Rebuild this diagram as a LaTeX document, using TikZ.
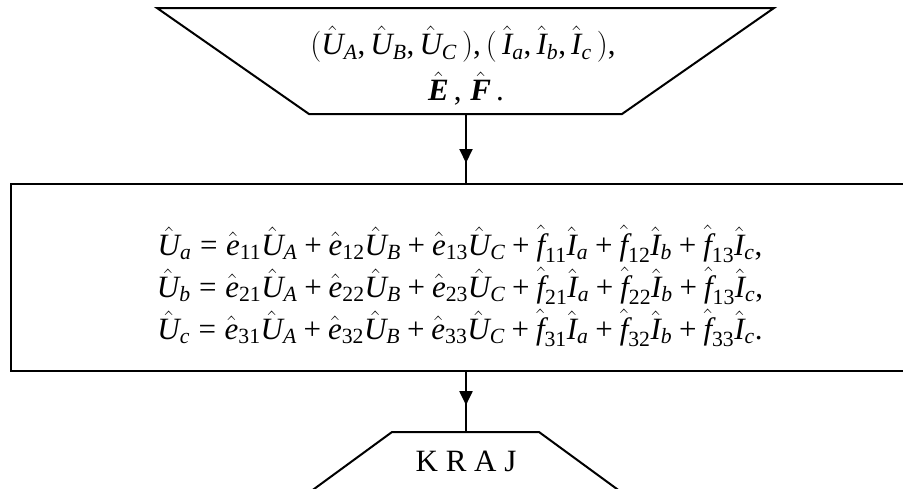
\RequirePackage{fix-cm}
\documentclass[tikz,border=0pt]{standalone}
\usepackage{amsmath}
\usepackage{fontspec}
\setmainfont{Liberation Serif}
\usetikzlibrary{arrows.meta,decorations.markings}
\newcommand\hv[2]{\hat{\text{\itshape #1}}_{\text{\itshape #2}}}
\newcommand\hc[2]{\hat{\text{\itshape #1}}_{\text{#2}}}
\newcommand\pl{\mathbin{\text{+}}}
\newcommand\eqs{\mathrel{\text{=}}}
\newcommand\cm{\text{,}}
\tikzset{
  shapeline/.style={line width=2pt, line join=miter},
  txt/.style={inner sep=0pt, font=\fontsize{31}{37}\selectfont},
  flow/.style={line width=2pt, postaction={decorate}, decoration={markings,
     mark=at position #1 with {\arrow{Triangle[length=14pt,width=13pt]}}}},
}
\begin{document}
\begin{tikzpicture}[x=1pt,y=-1pt]
\useasboundingbox (0,0) rectangle (903,488);
\clip (0,0) rectangle (903,488);
% input trapezoid
\draw[shapeline] (157,8) -- (774,8) -- (622,114) -- (309,114) -- cycle;
\node[txt] (in1) at (463,44) {$(\hv{U}{A}\cm\,\hv{U}{B}\cm\,\hv{U}{C}\,)\cm\,(\,\hv{I}{a}\cm\,\hv{I}{b}\cm\,\hv{I}{c}\,)\cm$};
\node[txt] (in2) at (466,89) {$\hat{\text{\bfseries\itshape E}}\,\cm\;\hat{\text{\bfseries\itshape F}}\,\text{.}$};
% process rectangle
\draw[shapeline] (11,184) -- (920,184) -- (920,371) -- (11,371) -- cycle;
\node[txt] (eq1) at (460,244) {$\hv{U}{a} \eqs \hc{e}{11}\hv{U}{A} \pl \hc{e}{12}\hv{U}{B} \pl \hc{e}{13}\hv{U}{C} \pl \hc{f}{11}\hv{I}{a} \pl \hc{f}{12}\hv{I}{b} \pl \hc{f}{13}\hv{I}{c}\cm$};
\node[txt] (eq2) at (460,286) {$\hv{U}{b} \eqs \hc{e}{21}\hv{U}{A} \pl \hc{e}{22}\hv{U}{B} \pl \hc{e}{23}\hv{U}{C} \pl \hc{f}{21}\hv{I}{a} \pl \hc{f}{22}\hv{I}{b} \pl \hc{f}{13}\hv{I}{c}\cm$};
\node[txt] (eq3) at (460,328) {$\hv{U}{c} \eqs \hc{e}{31}\hv{U}{A} \pl \hc{e}{32}\hv{U}{B} \pl \hc{e}{33}\hv{U}{C} \pl \hc{f}{31}\hv{I}{a} \pl \hc{f}{32}\hv{I}{b} \pl \hc{f}{33}\hv{I}{c}\text{.}$};
% end trapezoid
\draw[shapeline] (299,500) -- (392,432) -- (539,432) -- (632,500);
\node[txt] (end) at (466,461) {K R A J};
% connectors
\coordinate (inb) at (466,114);
\coordinate (prt) at (466,184);
\coordinate (prb) at (466,371);
\coordinate (endt) at (466,432);
\draw[flow=0.7] (inb) -- (prt);
\draw[flow=0.56] (prb) -- (endt);
\end{tikzpicture}
\end{document}
